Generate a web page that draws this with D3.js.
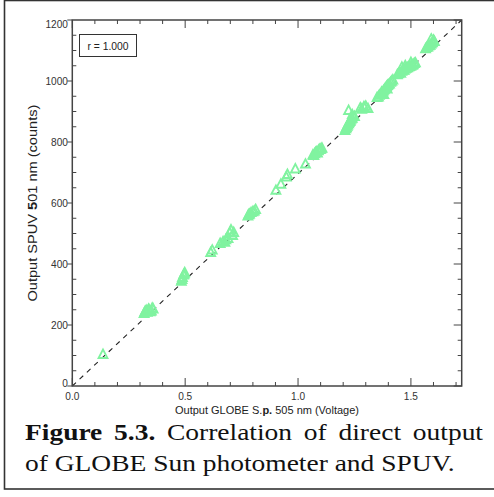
<!DOCTYPE html>
<html>
<head>
<meta charset="utf-8">
<script src="https://cdn.jsdelivr.net/npm/d3@7"></script>
<style>
html,body{margin:0;padding:0;background:#fff;}
svg{display:block;}
</style>
</head>
<body>
<svg id="chart" width="494" height="497"></svg>
<script>
// ---- data ----
const voltage = [0.136,0.318,0.322,0.325,0.330,0.332,0.338,0.340,0.345,0.350,0.354,0.358,
  0.483,0.486,0.488,0.493,0.496,0.498,
  0.613,0.620,0.655,0.668,0.676,0.680,0.690,0.698,0.703,0.710,0.715,
  0.778,0.782,0.785,0.792,0.800,0.806,0.812,
  0.902,0.924,0.948,0.953,0.988,1.033,
  1.066,1.070,1.074,1.078,1.082,1.086,1.090,1.094,1.098,1.102,1.106,
  1.208,1.212,1.214,1.218,1.220,1.224,1.226,1.230,1.232,1.236,1.240,1.224,1.240,1.250,
  1.276,1.282,1.292,1.300,1.310,
  1.350,1.356,1.360,1.366,1.370,1.374,1.378,1.382,1.386,1.390,1.392,1.396,1.400,1.405,1.410,1.415,1.420,1.380,1.395,
  1.440,1.445,1.450,1.455,1.460,1.465,1.470,1.475,1.480,1.485,1.490,1.495,1.500,1.505,1.510,1.515,1.520,1.460,1.475,1.500,
  1.565,1.570,1.575,1.580,1.585,1.590,1.595,1.600,1.590,1.604];
const counts = [98,232,238,240,242,236,246,244,238,240,250,247,
  338,344,350,358,362,366,
  432,440,462,468,466,474,478,496,506,488,498,
  552,556,558,563,566,568,573,
  636,656,680,688,706,722,
  752,750,756,760,762,758,766,770,770,772,774,
  832,838,842,846,850,854,858,862,866,870,872,898,884,878,
  906,902,910,912,904,
  940,942,948,950,958,955,962,966,970,972,976,980,982,985,990,994,998,950,968,
  1015,1018,1022,1020,1026,1030,1030,1034,1036,1038,1040,1042,1044,1046,1048,1052,1054,1040,1045,1055,
  1100,1104,1106,1110,1112,1116,1120,1128,1132,1124];
const fitLine = [[0,0],[1.725,1200]];
const xTicks = [0.0,0.5,1.0,1.5];
const yTicks = [0,200,400,600,800,1000,1200];
const xTickLabels = ["0.0","0.5","1.0","1.5"];
const rLabel = "r = 1.000";
const xTitle = [["Output GLOBE S.",false],["p.",true],[" 505 nm (Voltage)",false]];
const yTitle = [["Output SPUV ",false],["5",true],["01 nm (counts)",false]];
const caption1 = [["Figure",true],["5.3.",true],["Correlation",false],["of",false],["direct",false],["output",false]];
const caption2 = "of GLOBE Sun photometer and SPUV.";

// ---- layout ----
const svg = d3.select("#chart");
const L = 72.3, R = 461.7, T = 20, B = 386;
const x = d3.scaleLinear().domain([0,1.725]).range([L,R]);
const y = d3.scaleLinear().domain([0,1200]).range([B,T]);
const axisColor = "#444";
const labelFont = "'Liberation Sans',Arial,Helvetica,sans-serif";

function label(parent, px, py, txt, anchor, sx){
  const gg = parent.append("g").attr("transform",`translate(${px},${py}) scale(${sx},1)`);
  return gg.append("text").attr("x",0).attr("y",0).attr("text-anchor",anchor)
    .attr("font-family",labelFont).attr("font-size",11.5).attr("fill","#333").text(txt);
}

// outer frame
svg.append("rect").attr("x",4.5).attr("y",0.5).attr("width",600).attr("height",488.5)
  .attr("fill","none").attr("stroke","#333").attr("stroke-width",1.6);

const g = svg.append("g");

// fit line
g.append("line")
  .attr("x1",x(fitLine[0][0])).attr("y1",y(fitLine[0][1]))
  .attr("x2",x(fitLine[1][0])).attr("y2",y(fitLine[1][1]))
  .attr("stroke","#222").attr("stroke-width",1.1).attr("stroke-dasharray","5,5");

// triangles
const tri = d3.symbol().type(d3.symbolTriangle).size(34);
g.selectAll("path.pt").data(voltage.map((v,i)=>[v,counts[i]])).enter()
  .append("path").attr("class","pt")
  .attr("d",tri)
  .attr("transform",d=>`translate(${x(d[0])},${y(d[1])-1}) scale(1,1.1)`)
  .attr("fill","none").attr("stroke","#80f3a0").attr("stroke-width",1.8);

// axes box
g.append("rect").attr("x",L).attr("y",T).attr("width",R-L).attr("height",B-T)
  .attr("fill","none").attr("stroke",axisColor).attr("stroke-width",1.5);

// minor/major ticks
const xMinor = d3.range(0,1.7001,0.1);
const yMinor = d3.range(0,1200.1,50);
const isMajorX = v => Math.abs(v*2-Math.round(v*2))<1e-6;
const isMajorY = v => v%200===0;
xMinor.forEach(v=>{
  const len = isMajorX(v)?8:4;
  g.append("line").attr("x1",x(v)).attr("x2",x(v)).attr("y1",B).attr("y2",B-len)
    .attr("stroke",axisColor).attr("stroke-width",1);
  g.append("line").attr("x1",x(v)).attr("x2",x(v)).attr("y1",T).attr("y2",T+len)
    .attr("stroke",axisColor).attr("stroke-width",1);
});
yMinor.forEach(v=>{
  const len = isMajorY(v)?8:4;
  g.append("line").attr("y1",y(v)).attr("y2",y(v)).attr("x1",R).attr("x2",R-len)
    .attr("stroke",axisColor).attr("stroke-width",1);
  if(isMajorY(v)){
    g.append("line").attr("y1",y(v)).attr("y2",y(v)).attr("x1",L-5).attr("x2",L)
      .attr("stroke",axisColor).attr("stroke-width",1);
  } else {
    g.append("line").attr("y1",y(v)).attr("y2",y(v)).attr("x1",L).attr("x2",L+4)
      .attr("stroke",axisColor).attr("stroke-width",1);
  }
});

// tick labels
xTicks.forEach((v,i)=>{
  label(g, x(v), 399.5, xTickLabels[i], "middle", 0.88);
});
yTicks.forEach(v=>{
  let yy = y(v)+4;
  if(v===1200) yy += 4;
  if(v===0) yy -= 3;
  label(g, 68, yy, d3.format("d")(v), "end", 0.88);
});

// axis titles (scaled to the reference widths)
function title(parts, size, targetW, transform){
  const outer = g.append("g").attr("transform",transform);
  const inner = outer.append("g");
  const t = inner.append("text").attr("x",0).attr("y",0)
    .attr("font-family",labelFont).attr("font-size",size).attr("fill","#222");
  parts.forEach(([s,b])=>t.append("tspan").attr("font-weight",b?"bold":"normal").text(s));
  const w = t.node().getComputedTextLength();
  const s = targetW / w;
  inner.attr("transform",`scale(${s},1) translate(${-w/2},0)`);
}
title(xTitle, 11.5, 184, `translate(${(L+R)/2},414)`);
title(yTitle, 12, 197, `translate(37,${(T+B)/2}) rotate(-90)`);

// r box
g.append("rect").attr("x",79.5).attr("y",34.5).attr("width",57).attr("height",22)
  .attr("fill","#fff").attr("stroke","#333").attr("stroke-width",1);
label(g, 108, 50, rLabel, "middle", 0.9).attr("fill","#222");

// caption
const capFont = "'Liberation Serif','Times New Roman',Times,serif";
const capSize = 24;
const c2g = svg.append("g");
const c2 = c2g.append("text").attr("x",0).attr("y",0)
  .attr("font-family",capFont).attr("font-size",capSize).attr("fill","#111").text(caption2);
const w2 = c2.node().getComputedTextLength();
const sx = (455-25)/w2;
c2g.attr("transform",`translate(25,471) scale(${sx},1)`);

const c1g = svg.append("g").attr("transform",`translate(25,439.5) scale(${sx},1)`);
const words = caption1.map(([w,b])=>{
  const t = c1g.append("text").attr("y",0)
    .attr("font-family",capFont).attr("font-size",capSize).attr("fill","#111")
    .attr("font-weight",b?"bold":"normal").text(w);
  return {t, w: t.node().getComputedTextLength()};
});
const totalW = d3.sum(words,d=>d.w);
const avail = (483-25)/sx;
const gap = (avail-totalW)/(words.length-1);
let cx = 0;
words.forEach(d=>{ d.t.attr("x",cx); cx += d.w + gap; });
</script>
</body>
</html>
